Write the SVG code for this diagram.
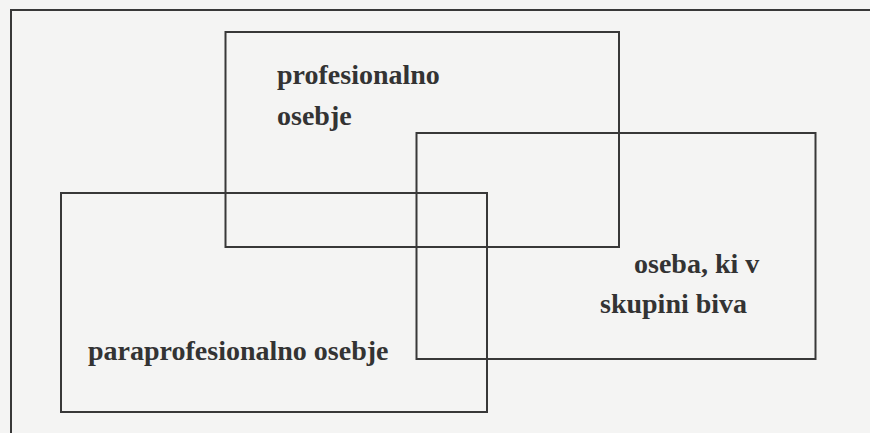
<svg xmlns="http://www.w3.org/2000/svg" width="870" height="433" viewBox="0 0 870 433">
  <style>
    .box { fill: none; stroke: #383838; stroke-width: 2; }
    .lbl { font-family: "Liberation Serif", "Times New Roman", serif; font-weight: bold; font-size: 28px; fill: #333333; }
  </style>
  <rect x="0" y="0" width="870" height="433" fill="#f4f4f3"/>
  <g id="frame">
    <rect class="box" x="11" y="10" width="880" height="440"/>
  </g>
  <g id="profesionalno-osebje">
    <rect class="box" x="225.5" y="32" width="393.5" height="215"/>
    <text class="lbl" x="277" y="84">profesionalno</text>
    <text class="lbl" x="277" y="125">osebje</text>
  </g>
  <g id="oseba-v-skupini">
    <rect class="box" x="416.5" y="133" width="399" height="226"/>
    <text class="lbl" x="634" y="273">oseba, ki v</text>
    <text class="lbl" x="600" y="313">skupini biva</text>
  </g>
  <g id="paraprofesionalno-osebje">
    <rect class="box" x="61" y="193" width="426" height="219"/>
    <text class="lbl" x="88" y="360">paraprofesionalno osebje</text>
  </g>
  <g id="connectors"/>
</svg>
